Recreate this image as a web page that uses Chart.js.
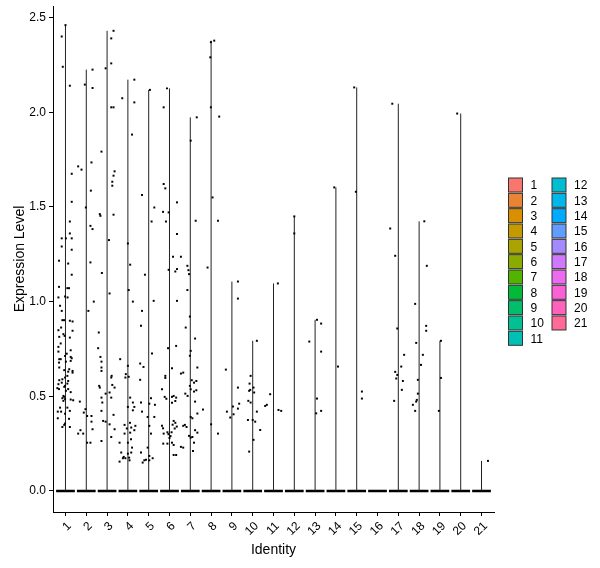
<!DOCTYPE html>
<html>
<head>
<meta charset="utf-8">
<script src="https://cdn.jsdelivr.net/npm/chart.js@4.4.1/dist/chart.umd.min.js"></script>
<style>
  html, body { margin: 0; padding: 0; background: #fff; }
  #wrap { width: 600px; height: 568px; position: relative; }
</style>
</head>
<body>
<div id="wrap"><canvas id="vln"></canvas></div>
<script>
// cluster identities and their legend colours
const categories = ['1','2','3','4','5','6','7','8','9','10','11','12','13','14','15','16','17','18','19','20','21']
const clusterColors = ['#F8766D','#EB8335','#DA8F00','#C49A00','#ABA300','#8CAB00','#53B400','#00BA38','#00BE6C','#00C094',
  '#00C0B5','#00BDD2','#00B6EB','#00ABFD','#619CFF','#A58AFF','#D078FF','#EB6AF0','#FB61D7','#FF62BC','#FF6A98']
const yTicks = [0, 0.5, 1, 1.5, 2, 2.5]

// non-zero cells per identity: [jittered identity, expression]
const pts1 = [[1.00,2.46],[0.82,2.40],[0.87,2.24],[1.21,2.14],[1.30,1.675],[1.30,1.527],[1.21,1.423],[1.21,1.36],
  [0.82,1.334],[1.02,1.334],[1.30,1.334],[0.82,1.291],[1.30,1.274],[0.69,1.216],[1.13,1.201],[1.30,1.142],
  [0.69,1.078],[1.09,1.071],[1.17,1.071],[0.66,1.022],[0.98,1.027],[1.10,1.022],[0.74,0.978],[0.82,0.951],
  [0.85,0.902],[0.93,0.902],[1.21,0.899],[1.34,0.895],[0.79,0.863],[0.66,0.849],[1.34,0.846],[0.90,0.828],
  [0.70,0.814],[0.96,0.819],[1.21,0.810],[0.77,0.779],[0.66,0.761],[1.25,0.743],[0.66,0.736],[1.06,0.725],
  [0.98,0.713],[1.25,0.708],[0.70,0.696],[0.77,0.696],[1.30,0.701],[1.25,0.687],[0.69,0.678],[1.02,0.683],
  [0.70,0.652],[0.94,0.638],[1.18,0.643],[1.34,0.634],[1.13,0.630],[1.34,0.625],[1.09,0.608],[0.98,0.599],
  [0.85,0.590],[0.70,0.585],[1.13,0.581],[0.82,0.572],[0.66,0.564],[1.09,0.567],[0.98,0.555],[0.61,0.543],
  [0.69,0.538],[0.94,0.550],[1.13,0.538],[1.02,0.529],[1.25,0.522],[0.90,0.502],[0.94,0.497],[0.85,0.490],
  [0.98,0.485],[1.25,0.483],[0.90,0.476],[1.37,0.479],[0.74,0.440],[1.09,0.440],[0.63,0.419],[0.79,0.419],
  [1.21,0.423],[0.98,0.408],[0.63,0.384],[1.17,0.381],[0.98,0.356],[0.94,0.349],[0.85,0.338],[1.21,0.338]]
const pts2 = [[2.30,2.225],[2.30,2.128],[1.93,2.146],[1.61,1.714],[1.77,1.697],[2.25,1.735],[2.22,1.586],[1.98,1.497],
  [2.20,1.40],[2.30,1.383],[2.20,1.207],[2.36,1.00],[2.10,0.951],[1.69,0.472],[1.96,0.432],[1.88,0.414],
  [2.04,0.396],[2.25,0.396],[1.72,0.321],[1.85,0.303],[1.61,0.303],[2.25,0.366],[2.04,0.255],[2.20,0.255],[2.30,0.326]]
const pts3 = [[2.93,2.232],[3.20,2.258],[3.20,2.39],[3.31,2.43],[3.20,2.026],[3.31,2.026],[2.73,1.792],[3.36,1.688],
  [3.31,1.665],[3.25,1.633],[3.25,1.612],[3.31,1.459],[2.68,1.453],[2.65,1.462],[3.09,1.325],[2.75,1.151],
  [3.12,1.043],[2.60,0.837],[2.57,0.754],[2.68,0.708],[2.73,0.683],[2.73,0.652],[2.73,0.634],[2.62,0.555],
  [2.65,0.546],[2.73,0.493],[2.73,0.423],[2.81,0.37],[2.73,0.264],[2.93,0.366],[3.12,0.352],[3.20,0.599],
  [3.25,0.560],[3.36,0.546],[3.20,0.493],[3.20,0.285],[3.36,0.326],[3.31,0.402],[3.12,0.520],[2.93,0.514],
  [2.77,0.467],[3.22,0.608]]
const pts4 = [[3.73,2.074],[4.31,2.172],[4.31,2.052],[4.20,1.882],[4.00,1.307],[4.11,1.195],[4.04,1.061],[4.24,1.00],
  [3.63,0.696],[3.88,0.599],[4.00,0.661],[4.04,0.603],[4.11,0.493],[4.24,0.467],[4.00,0.444],[4.24,0.426],
  [3.84,0.349],[4.16,0.335],[3.84,0.303],[4.11,0.308],[4.31,0.321],[4.00,0.255],[3.60,0.255],[4.15,0.273],
  [3.68,0.203],[3.76,0.173],[3.88,0.173],[3.60,0.155],[4.16,0.203],[4.08,0.162],[4.20,0.229],[4.36,0.344],
  [3.90,0.617],[4.31,0.444],[4.00,0.197],[4.06,0.176],[3.80,0.18],[3.95,0.33],[4.10,0.36]]
const pts5 = [[5.06,2.118],[4.68,1.563],[5.27,1.497],[5.14,1.423],[4.82,1.142],[5.24,1.004],[4.68,0.951],[4.63,0.872],
  [5.16,0.726],[4.59,0.673],[4.75,0.655],[4.59,0.587],[5.11,0.49],[4.63,0.467],[5.03,0.461],[5.30,0.455],
  [4.68,0.419],[4.95,0.391],[5.27,0.391],[5.03,0.344],[5.11,0.303],[4.95,0.229],[4.63,0.203],[5.03,0.185],
  [5.19,0.173],[4.79,0.162],[4.87,0.165],[4.71,0.15],[5.03,0.162]]
const pts6 = [[5.72,2.026],[5.88,2.126],[5.72,1.621],[5.80,1.598],[5.69,1.474],[5.83,1.423],[5.96,1.471],[6.36,1.524],
  [6.36,1.357],[6.36,1.004],[6.32,0.766],[6.28,1.159],[6.36,1.172],[5.96,1.168],[6.17,1.237],[5.93,0.754],
  [6.12,0.648],[5.64,0.537],[5.80,0.608],[5.80,0.597],[5.77,0.497],[5.85,0.487],[6.12,0.497],[6.20,0.502],
  [6.32,0.493],[6.12,0.466],[6.28,0.475],[5.64,0.344],[5.69,0.331],[5.72,0.303],[5.90,0.31],[5.95,0.30],
  [6.05,0.29],[6.10,0.31],[6.00,0.28],[6.20,0.37],[6.28,0.36],[6.15,0.35],[6.25,0.33],[6.35,0.34],
  [6.12,0.255],[6.20,0.243],[5.70,0.25],[5.90,0.25],[6.20,0.19],[6.32,0.19]]
const pts7 = [[7.31,1.973],[7.02,1.85],[7.26,1.427],[6.55,1.237],[6.86,1.189],[6.91,1.166],[6.94,1.145],[6.86,1.061],
  [6.98,0.921],[6.78,0.863],[7.23,0.805],[6.98,0.714],[7.02,0.74],[6.55,0.62],[6.66,0.625],[7.34,0.652],
  [7.07,0.585],[7.18,0.572],[7.29,0.581],[6.98,0.555],[7.02,0.537],[7.18,0.525],[7.29,0.532],[6.76,0.514],
  [6.87,0.502],[7.23,0.472],[7.02,0.391],[7.10,0.384],[7.34,0.409],[6.66,0.344],[6.74,0.349],[6.82,0.338],
  [6.94,0.291],[7.02,0.282],[7.10,0.285],[7.23,0.321],[7.34,0.308],[7.18,0.255],[7.13,0.211],[6.55,0.233],[6.66,0.229]]
const pts8 = [[7.96,2.29],[7.99,2.37],[8.15,2.378],[7.99,2.026],[8.39,1.977],[8.07,1.55],[8.33,1.427],[7.83,1.18],
  [8.00,0.352],[8.33,0.303],[7.61,0.43]]
const pts9 = [[9.29,1.106],[9.29,1.016],[8.71,0.641],[9.29,0.546],[9.05,0.446],[8.76,0.419],[8.92,0.388],[9.08,0.405],
  [9.29,0.435],[9.35,0.461]]
const pts10 = [[9.79,0.476],[9.90,0.467],[9.90,0.608],[9.85,0.567],[9.88,0.534],[9.83,0.529],[10.04,0.546],[10.07,0.52],
  [10.12,0.366],[10.20,0.419],[9.77,0.375],[10.00,0.375],[10.36,0.322],[10.04,0.27],[9.83,0.208],[10.20,0.793]]
const pts11 = [[11.21,1.096],[10.84,0.511],[10.60,0.449],[10.68,0.455],[11.24,0.428],[11.37,0.423]]
const pts12 = [[12.00,1.45],[12.00,1.36]]
const pts13 = [[13.09,0.904],[13.29,0.884],[12.72,0.789],[13.29,0.736],[13.09,0.488],[13.05,0.41],[13.29,0.423]]
const pts14 = [[13.92,1.603],[14.10,0.657]]
const pts15 = [[14.88,2.131],[14.96,1.58],[15.25,0.525],[15.25,0.488]]
const pts16 = []
const pts17 = [[16.71,2.045],[16.61,1.386],[16.85,1.242],[16.95,0.858],[17.28,0.719],[17.14,0.657],[16.85,0.629],
  [16.95,0.613],[16.90,0.594],[17.22,0.581],[17.17,0.534],[16.80,0.476]]
const pts18 = [[18.25,1.424],[18.37,1.189],[17.81,0.988],[18.34,0.872],[18.34,0.846],[17.86,0.782],[18.18,0.719],
  [18.09,0.666],[17.94,0.587],[17.94,0.514],[17.89,0.481],[17.86,0.472],[17.70,0.455],[17.81,0.423]]
const pts19 = [[19.05,0.793],[19.05,0.597],[18.95,0.423]]
const pts20 = [[19.83,1.993]]
const pts21 = [[21.31,0.159]]

const clusterPoints = [pts1,pts2,pts3,pts4,pts5,pts6,pts7,pts8,pts9,pts10,pts11,
  pts12,pts13,pts14,pts15,pts16,pts17,pts18,pts19,pts20,pts21]

const FONT = "'Liberation Sans', Arial, sans-serif"

// violin bodies collapse to a line from 0 to the max, plus a wide base at 0
let violinLines = []
let zeroBars = []
let jitter = []
categories.forEach((cat, i) => {
  let c = i + 1
  let cells = clusterPoints[i]
  let top = cells.reduce((m, p) => Math.max(m, p[1]), 0)
  if (top > 0) {
    violinLines.push({x: c, y: 0}, {x: c, y: top}, {x: c, y: null})
  }
  zeroBars.push({x: c - 0.45, y: 0}, {x: c + 0.45, y: 0}, {x: c + 0.5, y: null})
  cells.forEach(p => jitter.push({x: p[0], y: p[1]}))
})

const legendPlugin = {
  id: 'clusterLegend',
  afterDraw(chart) {
    let ctx = chart.ctx
    ctx.save()
    ctx.font = "12px " + FONT
    ctx.textBaseline = 'middle'
    ctx.textAlign = 'left'
    categories.forEach((cat, i) => {
      let col = i < 11 ? 0 : 1
      let row = i % 11
      let bx = 508.5 + col * 43.5
      let cy = 185 + row * 15.33
      ctx.fillStyle = clusterColors[i]
      ctx.fillRect(bx, cy - 7, 14, 14)
      ctx.strokeStyle = '#333333'
      ctx.lineWidth = 1
      ctx.strokeRect(bx, cy - 7, 14, 14)
      ctx.fillStyle = '#000'
      ctx.fillText(cat, bx + 22, cy + 1)
    })
    ctx.restore()
  }
}

new Chart(document.getElementById('vln'), {
  type: 'scatter',
  data: {
    datasets: [
      {
        type: 'scatter',
        label: 'cells',
        data: jitter,
        pointStyle: 'rect',
        pointRadius: 1.4,
        pointBorderWidth: 0,
        backgroundColor: '#000',
        borderColor: '#000'
      },
      {
        type: 'line',
        label: 'violin',
        data: violinLines,
        showLine: true,
        spanGaps: false,
        borderColor: '#222222',
        borderWidth: 1,
        pointRadius: 0,
        fill: false
      },
      {
        type: 'line',
        label: 'zero',
        data: zeroBars,
        showLine: true,
        spanGaps: false,
        borderColor: '#000',
        borderWidth: 2.5,
        borderCapStyle: 'butt',
        pointRadius: 0,
        fill: false
      }
    ]
  },
  options: {
    responsive: true,
    maintainAspectRatio: false,
    animation: false,
    layout: { padding: { left: 0, right: 106, top: 3, bottom: 0 } },
    plugins: { legend: { display: false }, tooltip: { enabled: false } },
    scales: {
      x: {
        type: 'linear',
        min: 0.4,
        max: 21.6,
        afterBuildTicks: scale => { scale.ticks = categories.map((c, i) => ({ value: i + 1 })) },
        afterFit: scale => { scale.height = 56 },
        ticks: {
          autoSkip: false,
          minRotation: 45,
          maxRotation: 45,
          labelOffset: 4,
          padding: 3,
          color: '#000',
          font: { family: FONT, size: 12 },
          callback: (v) => categories[v - 1]
        },
        grid: { drawOnChartArea: false, drawTicks: true, tickLength: 4, color: '#000' },
        border: { display: true, color: '#000', width: 1 },
        title: { display: true, text: 'Identity', color: '#000', font: { family: FONT, size: 14 }, padding: { top: 0, bottom: 9 } }
      },
      y: {
        type: 'linear',
        min: -0.111,
        max: 2.561,
        afterBuildTicks: scale => { scale.ticks = yTicks.map(v => ({ value: v })) },
        afterFit: scale => { scale.width = 53 },
        ticks: {
          color: '#000',
          padding: 3,
          font: { family: FONT, size: 12, lineHeight: 0.5 },
          callback: v => v.toFixed(1)
        },
        grid: { drawOnChartArea: false, drawTicks: true, tickLength: 4, color: '#000' },
        border: { display: true, color: '#000', width: 1 },
        title: { display: true, text: 'Expression Level', color: '#000', font: { family: FONT, size: 14 }, padding: { top: 11.5, bottom: 0 } }
      }
    }
  },
  plugins: [legendPlugin]
})
</script>
</body>
</html>
